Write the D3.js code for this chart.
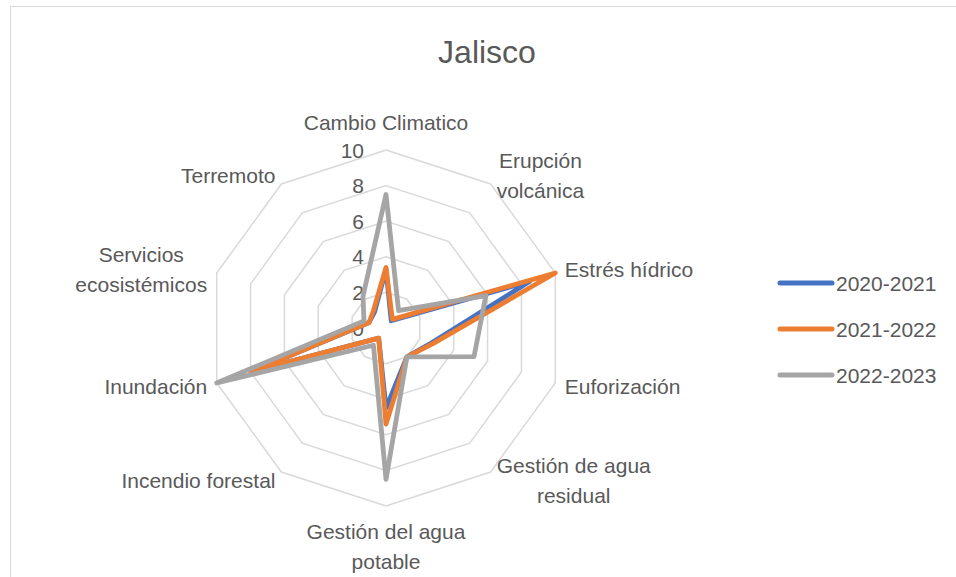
<!DOCTYPE html>
<html>
<head>
<meta charset="utf-8">
<script src="https://cdn.jsdelivr.net/npm/d3@7"></script>
<style>
    body { margin: 0; background: #fff; }
    svg { font-family: "Liberation Sans", Arial, sans-serif; }
    text { fill: #595959; }
</style>
</head>
<body>
<svg id="chart" width="956" height="577"></svg>
<script>
var categories = ["Cambio Climatico", "Erupción volcánica", "Estrés hídrico", "Euforización",
    "Gestión de agua residual", "Gestión del agua potable", "Incendio forestal", "Inundación",
    "Servicios ecosistémicos", "Terremoto"];

// how Excel wrapped the long labels
var labelLines = {
    "Erupción volcánica": ["Erupción", "volcánica"],
    "Gestión de agua residual": ["Gestión de agua", "residual"],
    "Gestión del agua potable": ["Gestión del agua", "potable"],
    "Servicios ecosistémicos": ["Servicios", "ecosistémicos"]
};

var seriesNames = ["2020-2021", "2021-2022", "2022-2023"];
var values2020 = [3.3, 0.5, 8.5, 2.7, 2.0, 4.5, 0.7, 7.8, 1.0, 1.1];
var values2021 = [3.4, 0.6, 10, 2.8, 2.0, 5.4, 0.7, 8.0, 1.0, 1.2];
var values2022 = [7.5, 1.2, 5.9, 5.2, 2.0, 8.5, 1.2, 10, 1.3, 2.2];
var ticks = [0, 2, 4, 6, 8, 10];

var colors = ["#4472C4", "#ED7D31", "#A5A5A5"];

var svg = d3.select("#chart");
var width = +svg.attr("width");

var cx = 386, cy = 328, radius = 178;

// chart border (only top/left visible in the frame)
svg.append("rect")
    .attr("x", 10.5).attr("y", 6.5)
    .attr("width", 980).attr("height", 600)
    .attr("fill", "none")
    .attr("stroke", "#d9d9d9");

svg.append("text")
    .attr("x", 487).attr("y", 63)
    .attr("text-anchor", "middle")
    .style("font-size", "32px")
    .text("Jalisco");

var r = d3.scaleLinear().domain([0, 10]).range([0, radius]);

var angle = d3.scaleBand()
    .domain(categories)
    .range([0, 2 * Math.PI])
    .align(0);

function point(cat, v) {
    var a = angle(cat);
    return [cx + r(v) * Math.sin(a), cy - r(v) * Math.cos(a)];
}

var g = svg.append("g");

// grid rings
g.selectAll("path.ring")
    .data(ticks.filter(function (t) { return t > 0; }))
    .enter().append("path")
    .attr("class", "ring")
    .attr("d", function (t) {
        return d3.line()(categories.map(function (c) { return point(c, t); })) + "Z";
    })
    .attr("fill", "none")
    .attr("stroke", "#d9d9d9")
    .attr("stroke-width", 1.5);

// value labels
g.selectAll("text.tick")
    .data(ticks)
    .enter().append("text")
    .attr("class", "tick")
    .attr("x", cx - 22)
    .attr("y", function (t) { return cy - r(t); })
    .attr("dy", "0.36em")
    .attr("text-anchor", "end")
    .style("font-size", "21px")
    .text(function (t) { return t; });

// series
var series = [values2020, values2021, values2022];
var line = d3.lineRadial()
    .angle(function (d, i) { return angle(categories[i]); })
    .radius(function (d) { return r(d); })
    .curve(d3.curveLinearClosed);

g.selectAll("path.series")
    .data(series)
    .enter().append("path")
    .attr("class", "series")
    .attr("transform", "translate(" + cx + "," + cy + ")")
    .attr("d", line)
    .attr("fill", "none")
    .attr("stroke", function (d, i) { return colors[i]; })
    .attr("stroke-width", 4.8)
    .attr("stroke-linejoin", "round");

// category labels
var lineH = 30;
categories.forEach(function (c) {
    var a = angle(c);
    var s = Math.sin(a), k = -Math.cos(a);
    var p = point(c, 10);
    var lines = labelLines[c] || [c];
    var h = lines.length * lineH;
    var x, yTop, anchor;
    if (Math.abs(s) < 0.1) {
        anchor = "middle";
        x = p[0];
        yTop = k < 0 ? p[1] - 13 - h : p[1] + 10;
    } else {
        anchor = lines.length > 1 ? "middle" : (s > 0 ? "start" : "end");
        x = p[0] + 10 * s;
        yTop = p[1] + 10 * k - h / 2;
    }
    var t = g.append("text")
        .attr("text-anchor", anchor)
        .style("font-size", "21px");
    lines.forEach(function (l, i) {
        var w = 0;
        var ts = t.append("tspan")
            .attr("y", yTop + lineH * i + lineH / 2)
            .attr("dy", "0.36em")
            .text(l);
        ts.attr("x", x);
    });
    if (anchor === "middle" && Math.abs(s) >= 0.1) {
        // shift a centred multi-line block so its edge sits next to the vertex
        var bw = t.node().getBBox().width;
        t.selectAll("tspan").attr("x", x + (s > 0 ? bw / 2 : -bw / 2));
    }
});

// legend
var legend = svg.append("g").selectAll("g")
    .data(seriesNames)
    .enter().append("g")
    .attr("transform", function (d, i) { return "translate(780," + (283 + i * 46) + ")"; });

legend.append("line")
    .attr("x1", 0).attr("x2", 52)
    .attr("stroke", function (d, i) { return colors[i]; })
    .attr("stroke-width", 5)
    .attr("stroke-linecap", "round");

legend.append("text")
    .attr("x", 56)
    .attr("dy", "0.36em")
    .style("font-size", "21px")
    .text(function (d) { return d; });
</script>
</body>
</html>
